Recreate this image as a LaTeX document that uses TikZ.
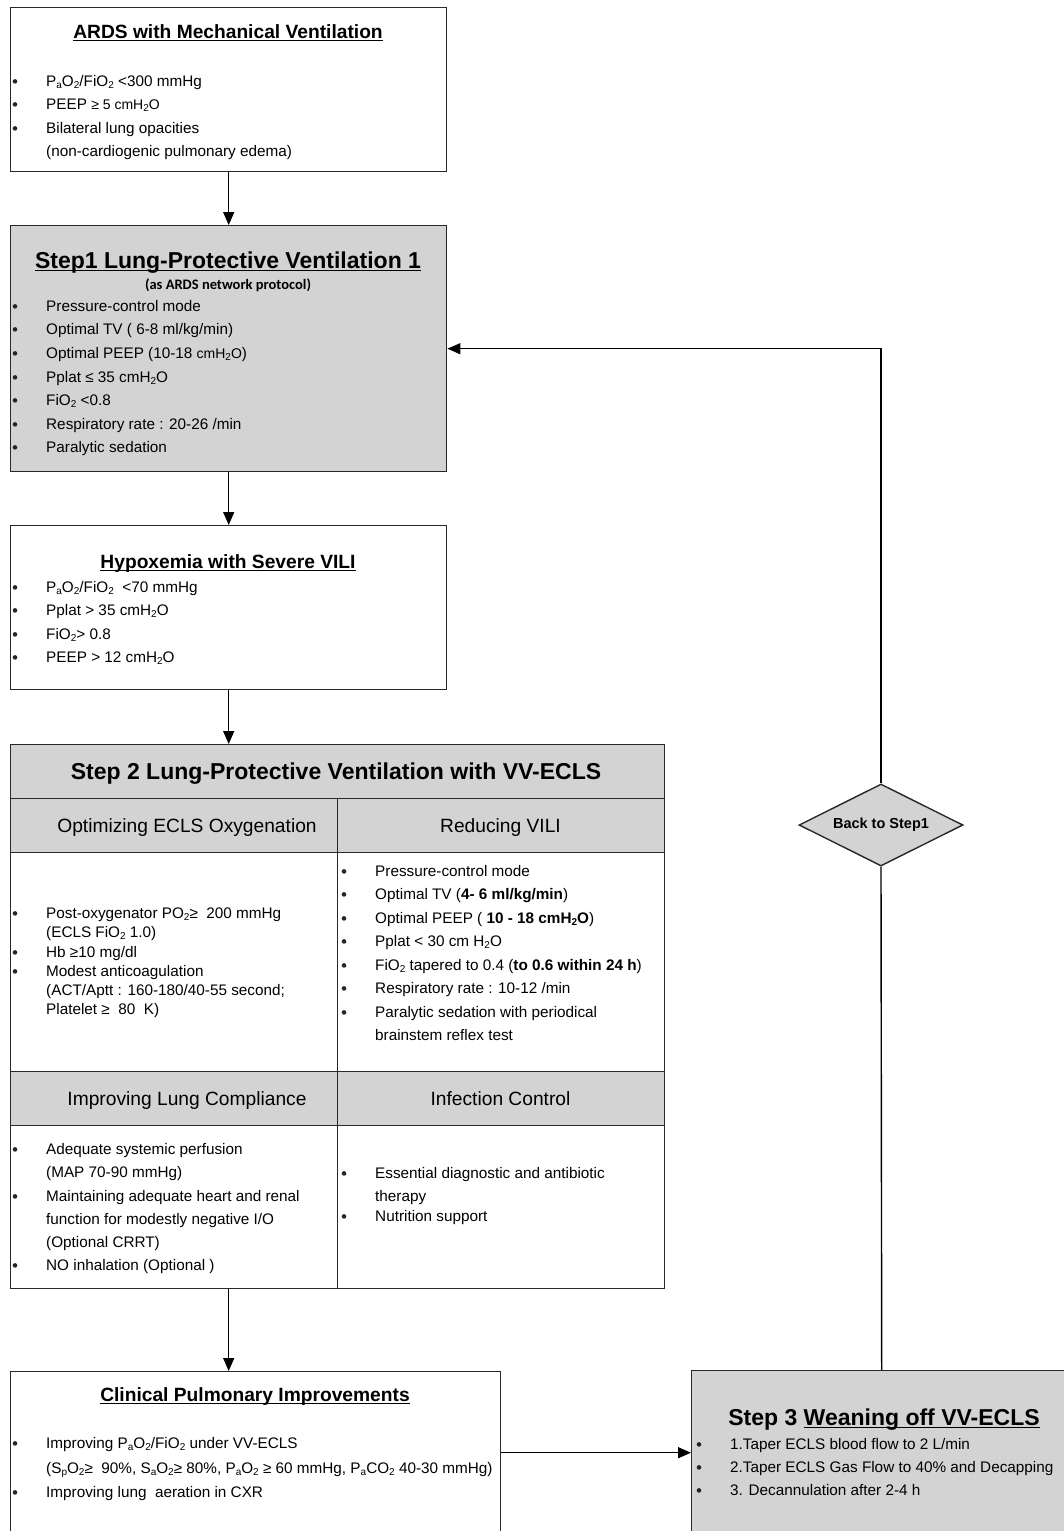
\documentclass[tikz,border=0pt]{standalone}
\usepackage{fontspec}
\usepackage{graphicx}
\setmainfont{Liberation Sans}
\newfontfamily\calib{Carlito}
\usetikzlibrary{arrows.meta,shapes.geometric}
\definecolor{boxgray}{RGB}{211,211,211}
\definecolor{edge}{RGB}{40,40,40}
\newcommand\bodyf{\fontsize{15.3}{18}\selectfont}
\newcommand\ttlf{\fontsize{19.2}{22}\selectfont\bfseries}
\newcommand\bigf{\fontsize{23}{26}\selectfont\bfseries}
\newcommand\subhf{\fontsize{19.2}{22}\selectfont}
\newcommand\sbs[1]{\raisebox{-0.3ex}{\fontsize{10}{10}\selectfont #1}}
\newcommand\smf[1]{{\fontsize{14}{14}\selectfont #1}}
\newsavebox\ulbox
\newcommand\myul[1]{\sbox\ulbox{#1}\rlap{\rule[-3pt]{\wd\ulbox}{1.4pt}}\usebox\ulbox}
\tikzset{
  box/.style={draw=edge, line width=1.4pt, inner sep=0pt, anchor=north west},
  graybox/.style={box, fill=boxgray},
  txt/.style={anchor=base west, inner sep=0pt, font=\bodyf},
  bult/.style={circle, fill=black!85, inner sep=0pt, minimum size=4.6pt},
  ttl/.style={anchor=base, inner sep=0pt, font=\ttlf},
  bigttl/.style={anchor=base, inner sep=0pt, font=\bigf},
  subh/.style={anchor=base, inner sep=0pt, font=\subhf},
  arr/.style={-{Triangle[length=13pt,width=11pt]}, line width=1.4pt, draw=black},
  plain/.style={line width=1.4pt, draw=black},
}
\newcommand\bl[4]{\node[bult] (#1b) at (#2+3,#3-4.6) {}; \node[txt] (#1) at (#2+34,#3) {#4};}
\newcommand\cl[4]{\node[txt] (#1) at (#2+34,#3) {#4};}
\begin{document}
\begin{tikzpicture}[x=1pt,y=-1pt]
\useasboundingbox (0,0) rectangle (1064,1531);
\clip (0,0) rectangle (1064,1531);
\fill[white] (0,0) rectangle (1064,1531);

% ---------- Box 1
\node[box, minimum width=436, minimum height=164] (b1) at (10,7) {};
\node[ttl] (b1t) at (228,38) {\myul{ARDS with Mechanical Ventilation}};
\bl{a1}{12}{86}{P\sbs{a}O\sbs{2}/FiO\sbs{2} <300 mmHg}
\bl{a2}{12}{109}{PEEP \smf{≥ 5 cmH\sbs{2}O}}
\bl{a3}{12}{133}{Bilateral lung opacities}
\cl{a4}{12}{156}{(non-cardiogenic pulmonary edema)}

% ---------- Step 1
\node[graybox, minimum width=436, minimum height=246] (st1) at (10,225) {};
\node[bigttl] (st1t) at (228,268) {\myul{Step1 Lung-Protective Ventilation 1}};
\node[anchor=base, inner sep=0pt, font=\calib\bfseries\fontsize{14.5}{15}\selectfont] (st1s) at (228,289) {(as ARDS network protocol)};
\bl{s1}{12}{311}{Pressure-control mode}
\bl{s2}{12}{334}{Optimal TV ( 6-8 ml/kg/min)}
\bl{s3}{12}{358}{Optimal PEEP (10-18 \smf{cmH\sbs{2}O})}
\bl{s4}{12}{382}{Pplat ≤ 35 cmH\sbs{2}O}
\bl{s5}{12}{405}{FiO\sbs{2} <0.8}
\bl{s6}{12}{429}{Respiratory rate : 20-26 /min}
\bl{s7}{12}{452}{Paralytic sedation}

% ---------- Hypoxemia
\node[box, minimum width=436, minimum height=164] (hyp) at (10,525) {};
\node[ttl] (hypt) at (228,568) {\myul{Hypoxemia with Severe VILI}};
\bl{h1}{12}{592}{P\sbs{a}O\sbs{2}/FiO\sbs{2}\ \ <70 mmHg}
\bl{h2}{12}{615}{Pplat > 35 cmH\sbs{2}O}
\bl{h3}{12}{639}{FiO\sbs{2}> 0.8}
\bl{h4}{12}{662}{PEEP > 12 cmH\sbs{2}O}

% ---------- Step 2 table
\node[graybox, minimum width=654, minimum height=54] (hdr) at (10,744) {};
\node[graybox, minimum width=327, minimum height=54] (sh1) at (10,798) {};
\node[graybox, minimum width=327, minimum height=54] (sh2) at (337,798) {};
\node[box, minimum width=327, minimum height=219] (ct1) at (10,852) {};
\node[box, minimum width=327, minimum height=219] (ct2) at (337,852) {};
\node[graybox, minimum width=327, minimum height=54] (sh3) at (10,1071) {};
\node[graybox, minimum width=327, minimum height=54] (sh4) at (337,1071) {};
\node[box, minimum width=327, minimum height=163] (ct3) at (10,1125) {};
\node[box, minimum width=327, minimum height=163] (ct4) at (337,1125) {};

\node[bigttl] (hdrt) at (336,779) {Step 2 Lung-Protective Ventilation with VV-ECLS};
\node[subh] (sh1t) at (187,832) {Optimizing ECLS Oxygenation};
\node[subh] (sh2t) at (500.5,832) {Reducing VILI};
\node[subh] (sh3t) at (187,1105) {Improving Lung Compliance};
\node[subh] (sh4t) at (500.5,1105) {Infection Control};

\bl{o1}{12}{918}{Post-oxygenator PO\sbs{2}≥\ \ 200 mmHg}
\cl{o2}{12}{937}{(ECLS FiO\sbs{2} 1.0)}
\bl{o3}{12}{957}{Hb ≥10 mg/dl}
\bl{o4}{12}{976}{Modest anticoagulation}
\cl{o5}{12}{995}{(ACT/Aptt : 160-180/40-55 second;}
\cl{o6}{12}{1014}{Platelet ≥\ \ 80\ \ K)}

\bl{r1}{341}{876}{Pressure-control mode}
\bl{r2}{341}{899}{Optimal TV (\textbf{4- 6 ml/kg/min})}
\bl{r3}{341}{923}{Optimal PEEP ( \textbf{10 - 18 cmH\sbs{2}O})}
\bl{r4}{341}{946}{Pplat < 30 cm H\sbs{2}O}
\bl{r5}{341}{970}{FiO\sbs{2} tapered to 0.4 (\textbf{to 0.6 within 24 h})}
\bl{r6}{341}{993}{Respiratory rate : 10-12 /min}
\bl{r7}{341}{1017}{Paralytic sedation with periodical}
\cl{r8}{341}{1040}{brainstem reflex test}

\bl{c1}{12}{1154}{Adequate systemic perfusion}
\cl{c2}{12}{1177}{(MAP 70-90 mmHg)}
\bl{c3}{12}{1201}{Maintaining adequate heart and renal}
\cl{c4}{12}{1224}{function for modestly negative I/O}
\cl{c5}{12}{1247}{(Optional CRRT)}
\bl{c6}{12}{1270}{NO inhalation (Optional )}

\bl{i1}{341}{1178}{Essential diagnostic and antibiotic}
\cl{i2}{341}{1201}{therapy}
\bl{i3}{341}{1221}{Nutrition support}

% ---------- Clinical improvements
\node[box, minimum width=490, minimum height=162] (clin) at (10,1371) {};
\node[ttl] (clint) at (255,1401) {\myul{Clinical Pulmonary Improvements}};
\bl{p1}{12}{1448}{Improving P\sbs{a}O\sbs{2}/FiO\sbs{2} under VV-ECLS}
\cl{p2}{12}{1473}{(S\sbs{p}O\sbs{2}≥\ \ 90\%, S\sbs{a}O\sbs{2}≥ 80\%, P\sbs{a}O\sbs{2} ≥ 60 mmHg, P\sbs{a}CO\sbs{2} 40-30 mmHg)}
\bl{p3}{12}{1497}{Improving lung\ \ aeration in CXR}

% ---------- Step 3
\node[graybox, minimum width=380, minimum height=164] (s3) at (691,1370) {};
\node[bigttl] (s3t) at (884,1425) {Step 3 \myul{Weaning off VV-ECLS}};
\bl{w1}{696}{1449}{1.Taper ECLS blood flow to 2 L/min}
\bl{w2}{696}{1472}{2.Taper ECLS Gas Flow to 40\% and Decapping}
\bl{w3}{696}{1495}{3. Decannulation after 2-4 h}

% ---------- Diamond
\node[diamond, aspect=2, draw=edge, fill=boxgray, line width=1.4pt, inner sep=0pt,
      minimum width=164, minimum height=82, font=\bfseries\fontsize{14.5}{15}\selectfont] (dia) at (881,825) {Back to Step1};

% ---------- Connectors
\draw[arr] (b1.south) -- (st1.north);
\draw[arr] (st1.south) -- (hyp.north);
\draw[arr] (hyp.south) -- (hyp.south |- hdr.north);
\draw[arr] (hyp.south |- ct3.south) -- (hyp.south |- clin.north);
\draw[arr] (clin.east) -- (clin.east -| s3.west);
\draw[plain] (s3.north) -- (dia.south);
\draw[arr] (dia.north) |- (st1.east);
\end{tikzpicture}
\end{document}
